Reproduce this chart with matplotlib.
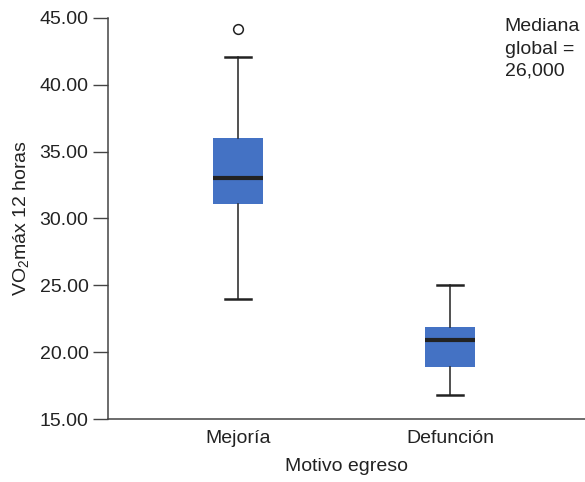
import matplotlib
matplotlib.use("Agg")
import matplotlib.pyplot as plt

plt.rcParams['font.family'] = ['Liberation Sans', 'DejaVu Sans']
plt.rcParams['mathtext.fontset'] = 'custom'
plt.rcParams['mathtext.rm'] = 'Liberation Sans'
plt.rcParams['mathtext.it'] = 'Liberation Sans:italic'

# datos
categorias = ['Mejoría', 'Defunción']
minimos = [24.0, 16.8]
q1 = [31.1, 18.9]
medianas = [33.0, 20.9]
q3 = [36.0, 21.9]
maximos = [42.1, 25.0]
atipicos = [[44.2], []]

stats = []
for i in range(len(categorias)):
    stats.append(dict(label=categorias[i], whislo=minimos[i], q1=q1[i], med=medianas[i],
                      q3=q3[i], whishi=maximos[i], fliers=atipicos[i]))

fig = plt.figure(figsize=(5.85, 4.82), dpi=100)
ax = fig.add_axes([0.1846, 0.1307, 0.8154, 0.832])

ax.bxp(stats, positions=[1, 2], widths=0.24, patch_artist=True, capwidths=0.12,
       boxprops=dict(facecolor='#4472C4', edgecolor='#4472C4', linewidth=0),
       medianprops=dict(color='#222222', linewidth=3),
       whiskerprops=dict(color='#222222', linewidth=1.1),
       capprops=dict(color='#222222', linewidth=1.8),
       flierprops=dict(marker='o', markersize=7, markerfacecolor='white',
                       markeredgecolor='#222222', markeredgewidth=1.1))

ax.set_xlim(0.387, 2.637)
ax.set_ylim(15, 45)
ax.set_yticks([15, 20, 25, 30, 35, 40, 45])
ax.set_yticklabels(['%.2f' % v for v in [15, 20, 25, 30, 35, 40, 45]])
ax.tick_params(axis='y', length=11, width=1, color='#444444', labelsize=14,
               labelcolor='#222222', pad=3)
ax.tick_params(axis='x', length=0, labelsize=14, labelcolor='#222222', pad=8)

for s in ['top', 'right']:
    ax.spines[s].set_visible(False)
for s in ['left', 'bottom']:
    ax.spines[s].set_color('#444444')
    ax.spines[s].set_linewidth(1.1)

ax.set_xlabel('Motivo egreso', fontsize=14, color='#222222', labelpad=8)
ax.set_ylabel('VO$_2$máx 12 horas', fontsize=14, color='#222222', labelpad=6)

fig.text(0.863, 0.962, 'Mediana\nglobal =\n26,000', fontsize=14, color='#222222',
         va='top', ha='left', linespacing=1.4)

fig.savefig('out.png', dpi=100)
